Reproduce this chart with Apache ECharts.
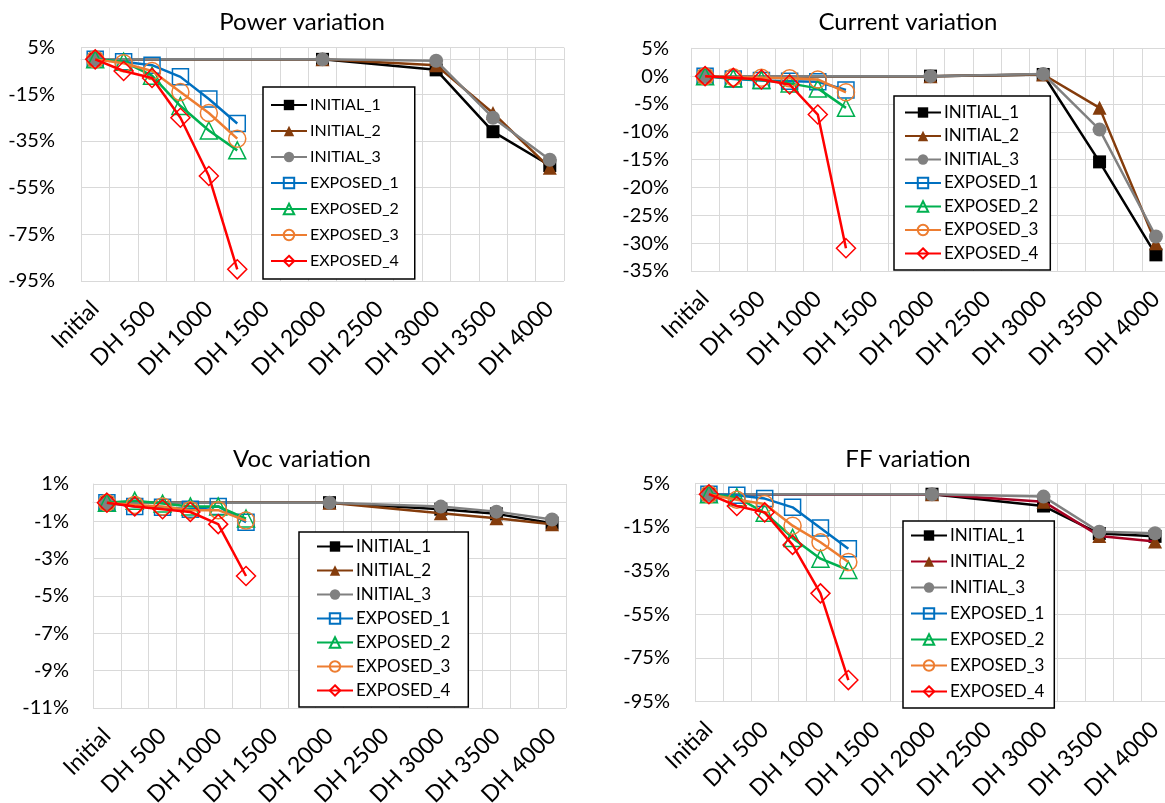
<!DOCTYPE html>
<html>
<head>
<meta charset="utf-8">
<script src="https://cdn.jsdelivr.net/npm/echarts@6/dist/echarts.min.js"></script>
<style>
html,body{margin:0;padding:0;background:#fff;}
#chart{width:1165px;height:803px;}
</style>
</head>
<body>
<div id="chart"></div>
<script>
// ---- categories (DH steps of 250 h; labels shown every other step) ----
const categories = ['Initial','DH 250','DH 500','DH 750','DH 1000','DH 1250','DH 1500','DH 1750','DH 2000','DH 2250','DH 2500','DH 2750','DH 3000','DH 3250','DH 3500','DH 3750','DH 4000'];
const initialSteps = ['Initial','DH 2000','DH 3000','DH 3500','DH 4000'];
const exposedSteps = ['Initial','DH 250','DH 500','DH 750','DH 1000','DH 1250'];
const seriesNames = ['INITIAL_1','INITIAL_2','INITIAL_3','EXPOSED_1','EXPOSED_2','EXPOSED_3','EXPOSED_4'];

// ---- Power variation (%) ----
const powerInitial1 = [0, 0, -4.5, -31, -45.5];
const powerInitial2 = [0, 0, -2.5, -23, -46.5];
const powerInitial3 = [0, 0, -0.6, -25, -43];
const powerExposed1 = [0, -1, -2.5, -7.5, -17, -27.5];
const powerExposed2 = [0, -1, -7, -20, -30.5, -39];
const powerExposed3 = [0, -1.7, -5, -14, -23, -34];
const powerExposed4 = [0, -5, -8, -25, -50, -90];
const powerTicks = [5, -15, -35, -55, -75, -95];

// ---- Current variation (%) ----
const currentInitial1 = [0, 0, 0.3, -15.4, -32.1];
const currentInitial2 = [0, 0, 0.3, -5.7, -30];
const currentInitial3 = [0, 0, 0.4, -9.6, -28.8];
const currentExposed1 = [0, -0.5, -0.8, -0.9, -1.0, -2.5];
const currentExposed2 = [0, -0.4, -0.7, -1.3, -2.2, -5.7];
const currentExposed3 = [0, -0.2, -0.3, -0.4, -0.6, -2.9];
const currentExposed4 = [0, -0.3, -0.6, -1.5, -6.9, -30.9];

// ---- Voc variation (%) ----
const vocInitial1 = [0, 0, -0.35, -0.6, -1.1];
const vocInitial2 = [0, 0, -0.57, -0.84, -1.15];
const vocInitial3 = [0, 0, -0.21, -0.48, -0.9];
const vocExposed1 = [0, -0.2, -0.25, -0.35, -0.2, -1.05];
const vocExposed2 = [0, 0.1, -0.05, -0.2, -0.2, -0.85];
const vocExposed3 = [0, -0.12, -0.2, -0.4, -0.4, -0.96];
const vocExposed4 = [0, -0.2, -0.35, -0.5, -1.15, -3.93];
const vocTicks = [1, -1, -3, -5, -7, -9, -11];

// ---- FF variation (%) ----
const ffInitial1 = [0, 0, -5.4, -18, -19.3];
const ffInitial2 = [0, 0, -3.4, -19.1, -21.7];
const ffInitial3 = [0, 0, -1.1, -17.2, -17.9];
const ffExposed1 = [0, -0.5, -2, -6, -15.5, -25];
const ffExposed2 = [0, -1.4, -8.5, -20, -29.5, -34.7];
const ffExposed3 = [0, -2.5, -4.5, -14.4, -22, -31];
const ffExposed4 = [0, -5.4, -8.3, -23.2, -45.4, -85.1];
const ffTicks = [5, -15, -35, -55, -75, -95];

const FONT = 'Lato';
const styles = [
  {color:'#000000', line:'#000000', symbol:'rect', size:13, filled:true},
  {color:'#843C0C', line:'#843C0C', symbol:'triangle', size:14, filled:true},
  {color:'#808080', line:'#808080', symbol:'circle', size:14, filled:true},
  {color:'#0070C0', line:'#0070C0', symbol:'rect', size:16, filled:false},
  {color:'#00B050', line:'#00B050', symbol:'triangle', size:17, filled:false},
  {color:'#ED7D31', line:'#ED7D31', symbol:'circle', size:17, filled:false},
  {color:'#FF0000', line:'#FF0000', symbol:'diamond', size:19, filled:false}
];

const panels = [
  { key:'p', title:'Power variation', titleX:297, titleY:5,
    grid:{left:81, top:47.7, width:483, height:233.3},
    y:{min:-95, max:5, ticks:powerTicks}, labelMargin:26,
    data:[powerInitial1,powerInitial2,powerInitial3,powerExposed1,powerExposed2,powerExposed3,powerExposed4],
    legend:{left:263, top:87, fontSize:16, itemGap:10, padding:[10,16,10,7]} },
  { key:'c', title:'Current variation', titleX:903, titleY:5,
    grid:{left:691, top:48.3, width:479, height:222.7},
    y:{min:-35, max:5, interval:5}, labelMargin:22,
    data:[currentInitial1,currentInitial2,currentInitial3,currentExposed1,currentExposed2,currentExposed3,currentExposed4],
    legend:{left:894, top:96, fontSize:17, itemGap:6.5, padding:[8,12,8,10]} },
  { key:'v', title:'Voc variation', titleX:297, titleY:442,
    grid:{left:93, top:484, width:473, height:224},
    y:{min:-11, max:1, ticks:vocTicks}, labelMargin:24,
    data:[vocInitial1,vocInitial2,vocInitial3,vocExposed1,vocExposed2,vocExposed3,vocExposed4],
    legend:{left:299, top:532, fontSize:17, itemGap:7, padding:[6,18,8,17]} },
  { key:'f', title:'FF variation', titleX:903, titleY:442,
    grid:{left:695, top:483.3, width:474, height:218.4},
    y:{min:-95, max:5, ticks:ffTicks}, labelMargin:25,
    data:[ffInitial1,ffInitial2,ffInitial3,ffExposed1,ffExposed2,ffExposed3,ffExposed4],
    legend:{left:903, top:521, fontSize:17, itemGap:9, padding:[6,10,8,7]}, initial2Line:'#A50021' }
];

const option = {
  backgroundColor:'#ffffff',
  animation:false,
  title:[], grid:[], xAxis:[], yAxis:[], legend:[], series:[]
};

panels.forEach((p, gi) => {
  option.title.push({
    text:p.title, left:p.titleX, top:p.titleY, textAlign:'center',
    textStyle:{fontFamily:FONT, fontSize:24, fontWeight:'normal', color:'#000'}
  });
  option.grid.push(Object.assign({containLabel:false, outerBoundsMode:'none'}, p.grid));
  option.xAxis.push({
    type:'category', gridIndex:gi, data:categories, boundaryGap:true,
    axisLine:{show:true, lineStyle:{color:'#D9D9D9', width:1}},
    axisTick:{show:false, interval:0},
    axisLabel:{interval:1, rotate:45, margin:24, fontFamily:FONT, fontSize:23, color:'#000'},
    splitLine:{show:true, interval:0, lineStyle:{color:'#D9D9D9', width:1}}
  });
  const ya = {
    type:'value', gridIndex:gi, min:p.y.min, max:p.y.max,
    axisLine:{show:true, lineStyle:{color:'#D9D9D9', width:1}},
    axisTick:{show:false},
    axisLabel:{margin:p.labelMargin, fontFamily:FONT, fontSize:20, color:'#000', formatter:v => v + '%'},
    splitLine:{show:true, lineStyle:{color:'#D9D9D9', width:1}}
  };
  if (p.y.interval) { ya.interval = p.y.interval; }
  if (p.y.ticks) {
    ya.axisTick.customValues = p.y.ticks;
    ya.axisLabel.customValues = p.y.ticks;
  }
  option.yAxis.push(ya);

  const names = seriesNames.map(n => n + '|' + p.key);
  option.legend.push({
    data:names, orient:'vertical', left:p.legend.left, top:p.legend.top,
    padding:p.legend.padding, itemGap:p.legend.itemGap,
    itemWidth:36, itemHeight:13,
    backgroundColor:'#fff', borderColor:'#000', borderWidth:1.5,
    selectedMode:false,
    formatter:n => n.split('|')[0],
    textStyle:{fontFamily:FONT, fontSize:p.legend.fontSize, color:'#000', padding:[0,0,0,-2]}
  });

  p.data.forEach((vals, si) => {
    const st = styles[si];
    const steps = si < 3 ? initialSteps : exposedSteps;
    const lineColor = (si === 1 && p.initial2Line) ? p.initial2Line : st.line;
    option.series.push({
      name:names[si], type:'line', xAxisIndex:gi, yAxisIndex:gi,
      data:steps.map((c, k) => [c, vals[k]]),
      symbol:st.symbol, symbolSize:st.size, showAllSymbol:true,
      clip:false,
      lineStyle:{color:lineColor, width:2.5},
      itemStyle: st.filled
        ? {color:st.color, borderColor:st.color, borderWidth:0}
        : {color:'rgba(255,255,255,0)', borderColor:st.color, borderWidth:1.5},
      emphasis:{disabled:true},
      z: 2 + si
    });
  });
});

const chart = echarts.init(document.getElementById('chart'), null, {renderer:'canvas'});
chart.setOption(option);
</script>
</body>
</html>
